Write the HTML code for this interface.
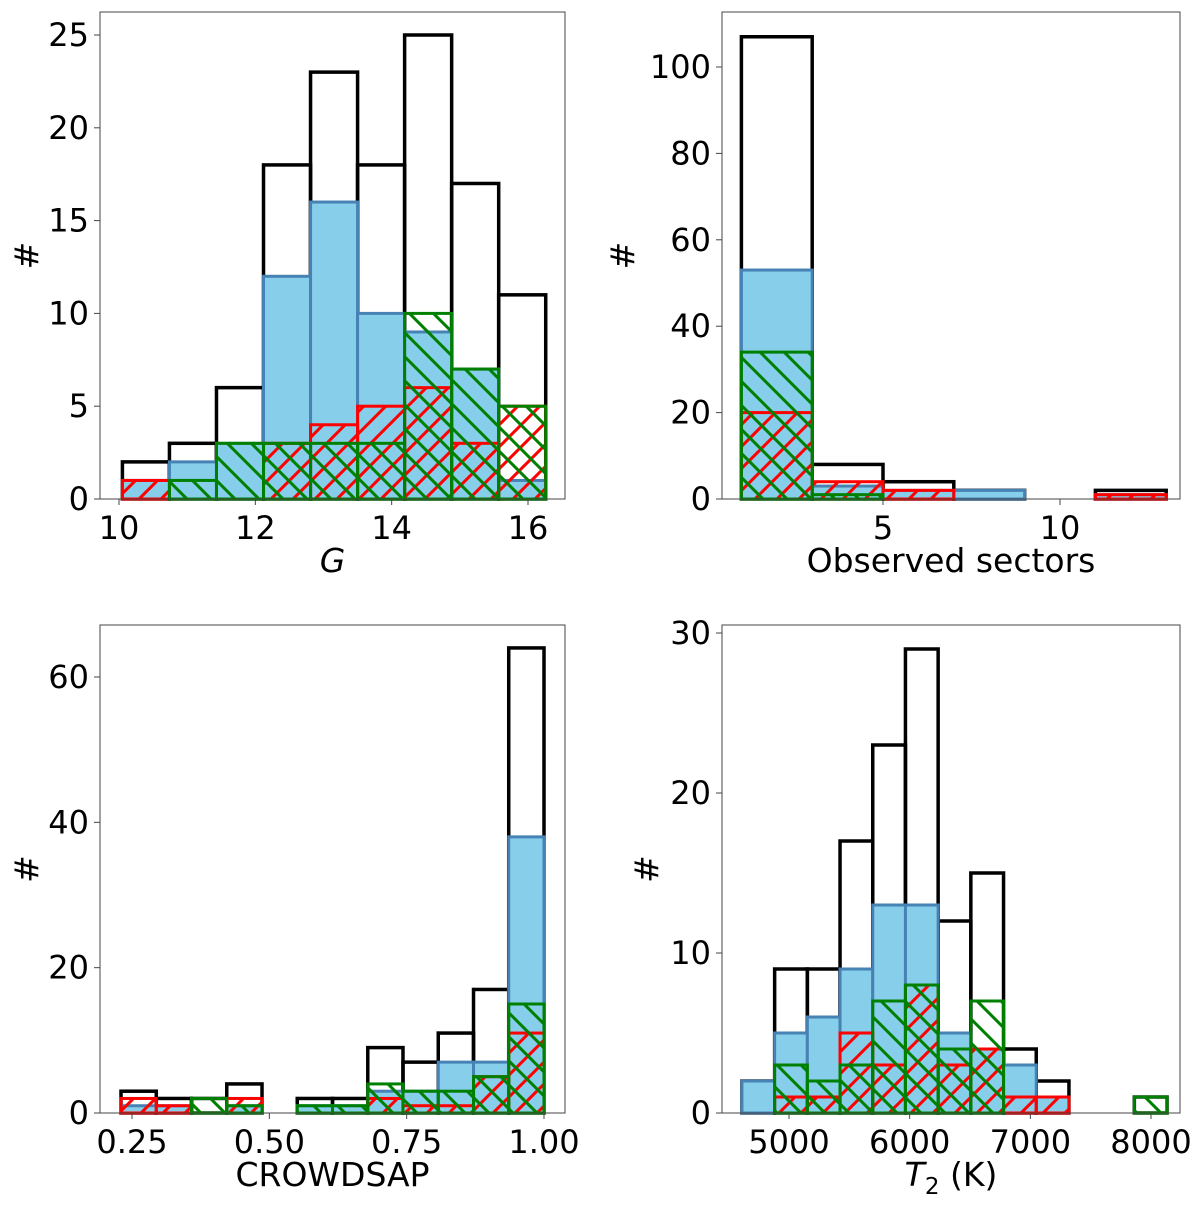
<!DOCTYPE html>
<html><head><meta charset="utf-8"><style>
body{margin:0;background:#fff;}
svg text{font-family:"DejaVu Sans","Liberation Sans",sans-serif;fill:#000;}
</style></head><body>
<svg id="fig" width="1200" height="1207" viewBox="0 0 1200 1207" xmlns="http://www.w3.org/2000/svg">
<defs>
<pattern id="hr" patternUnits="userSpaceOnUse" width="22" height="22"><path d="M-2,24 L24,-2 M-2,2 L2,-2 M20,24 L24,20" stroke="#ff0000" stroke-width="3"/></pattern>
<pattern id="hg" patternUnits="userSpaceOnUse" width="24" height="24"><path d="M-2,-2 L26,26 M-2,22 L2,26 M22,-2 L26,2" stroke="#008000" stroke-width="3"/></pattern>
</defs>
</svg>
<script>
// Panel A: G magnitude
const gEdges=[10.05,10.74,11.43,12.12,12.81,13.50,14.19,14.88,15.57,16.26];
const gAll=[2,3,6,18,23,18,25,17,11];
const gBlue=[1,2,3,12,16,10,9,7,1];
const gRed=[1,0,0,3,4,5,6,3,5];
const gGreen=[0,1,3,3,3,3,10,7,5];
const gYTicks=[0,5,10,15,20,25];
const gXTicks=[10,12,14,16];
// Panel B: observed sectors
const sEdges=[1,3,5,7,9,11,13];
const sAll=[107,8,4,2,0,2];
const sBlue=[53,3,2,2,0,1];
const sRed=[20,4,2,0,0,1];
const sGreen=[34,1,0,0,0,0];
const sYTicks=[0,20,40,60,80,100];
const sXTicks=[5,10];
// Panel C: CROWDSAP
const cEdges=[0.230,0.2942,0.3583,0.4225,0.4867,0.5508,0.615,0.6792,0.7433,0.8075,0.8717,0.9358,1.0];
const cAll=[3,2,2,4,0,2,2,9,7,11,17,64];
const cBlue=[1,1,0,1,0,1,1,3,3,7,7,38];
const cRed=[2,1,0,2,0,0,0,2,1,1,5,11];
const cGreen=[0,0,2,1,0,1,1,4,3,3,5,15];
const cYTicks=[0,20,40,60];
const cXTicks=[0.25,0.5,0.75,1.0];
const cXLabels=["0.25","0.50","0.75","1.00"];
// Panel D: T2
const tEdges=[4610,4881,5152,5423,5694,5965,6236,6507,6778,7049,7320,7591,7862,8133];
const tAll=[2,9,9,17,23,29,12,15,4,2,0,0,1];
const tBlue=[2,5,6,9,13,13,5,4,3,1,0,0,0];
const tRed=[0,1,1,5,3,8,3,4,1,1,0,0,0];
const tGreen=[0,3,2,3,7,8,4,7,0,0,0,0,1];
const tYTicks=[0,10,20,30];
const tXTicks=[5000,6000,7000,8000];

const NS="http://www.w3.org/2000/svg";
const fig=document.getElementById('fig');
function mk(tag,attrs,parent){const e=document.createElementNS(NS,tag);for(const k in attrs)e.setAttribute(k,attrs[k]);(parent||fig).appendChild(e);return e;}

function panel(p){
  const g=mk('g',{});
  
  
  const X=v=>p.xr[1]+(v-p.xr[0])/(p.xr[2]-p.xr[0])*(p.xr[3]-p.xr[1]);
  const Y=v=>p.yr[1]+(v-p.yr[0])/(p.yr[2]-p.yr[0])*(p.yr[3]-p.yr[1]);
  function series(vals,style,nm){
    for(let i=0;i<vals.length;i++){
      if(vals[i]<=0) continue;
      const a=X(p.edges[i]),b=X(p.edges[i+1]),t=Y(vals[i]),base=Y(0);
      const r=mk('rect',Object.assign({x:a,y:t,width:b-a,height:Math.max(0,base-t)},style),g);
      
      
    }
  }
  series(p.all,{fill:'none',stroke:'#000','stroke-width':3.5},'all');
  series(p.blue,{fill:'#87ceeb',stroke:'#4682b4','stroke-width':3},'blue');
  series(p.red,{fill:'url(#hr)',stroke:'#ff0000','stroke-width':3},'red');
  series(p.green,{fill:'url(#hg)',stroke:'#008000','stroke-width':3},'green');
  const fr=mk('rect',{x:p.x0,y:p.y1,width:p.x1-p.x0,height:p.y0-p.y1,fill:'none',stroke:'#444','stroke-width':1},g);
  
  
  p.yt.forEach(v=>{
    const y=Y(v);
    mk('line',{x1:p.x0-6,x2:p.x0,y1:y,y2:y,stroke:'#444','stroke-width':1},g);
    const t=mk('text',{x:p.x0-11,y:y+11,'text-anchor':'end','font-size':32},g);
    t.textContent=v;
    
    
  });
  p.xt.forEach((v,i)=>{
    const x=X(v);
    mk('line',{x1:x,x2:x,y1:p.y0,y2:p.y0+6,stroke:'#444','stroke-width':1},g);
    const t=mk('text',{x:x,y:p.y0+40,'text-anchor':'middle','font-size':32},g);
    t.textContent=p.xl?p.xl[i]:v;
    
    
  });
  const yl=mk('text',{x:0,y:0,'text-anchor':'middle','font-size':33,transform:`translate(${p.ylx},${(p.y0+p.y1)/2}) rotate(-90)`},g);
  yl.textContent='#';
  
  
  const xl=mk('text',{x:(p.x0+p.x1)/2,y:p.y0+73,'text-anchor':'middle','font-size':33},g);
  
  
  xl.innerHTML=p.xlabel;
}
panel({name:'panel-g',x0:100,x1:565,y0:499,y1:12,xr:[10,119,16,528],yr:[0,499,25,35],
  edges:gEdges,all:gAll,blue:gBlue,red:gRed,green:gGreen,yt:gYTicks,xt:gXTicks,ylx:38,
  xlabel:'<tspan font-style="italic">G</tspan>'});
panel({name:'panel-sectors',x0:722,x1:1180,y0:499,y1:12,xr:[5,883,10,1060],yr:[0,499,100,67],
  edges:sEdges,all:sAll,blue:sBlue,red:sRed,green:sGreen,yt:sYTicks,xt:sXTicks,ylx:634,
  xlabel:'Observed sectors'});
panel({name:'panel-crowdsap',x0:100,x1:565,y0:1113,y1:625,xr:[0.25,132,1.0,544],yr:[0,1113,60,677],
  edges:cEdges,all:cAll,blue:cBlue,red:cRed,green:cGreen,yt:cYTicks,xt:cXTicks,xl:cXLabels,ylx:38,
  xlabel:'CROWDSAP'});
panel({name:'panel-t2',x0:722,x1:1180,y0:1113,y1:625,xr:[5000,789,8000,1151],yr:[0,1113,30,633],
  edges:tEdges,all:tAll,blue:tBlue,red:tRed,green:tGreen,yt:tYTicks,xt:tXTicks,ylx:658,
  xlabel:'<tspan font-style="italic">T</tspan><tspan font-size="23" dy="8">2</tspan><tspan dy="-8"> (K)</tspan>'});
</script>
</body></html>
